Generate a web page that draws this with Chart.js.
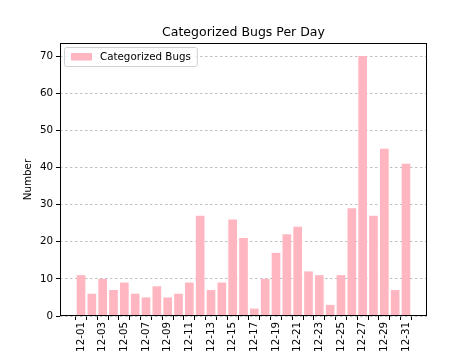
<!DOCTYPE html>
<html><head><meta charset="utf-8">
<script src="https://cdn.jsdelivr.net/npm/chart.js@4.4.0/dist/chart.umd.min.js"></script>
<style>html,body{margin:0;padding:0;background:#fff}#wrap{width:474px;height:355px}</style>
</head><body><div id="wrap"><canvas id="c" width="474" height="355"></canvas></div>
<script>
const categories = ['12-01','12-02','12-03','12-04','12-05','12-06','12-07','12-08','12-09','12-10','12-11','12-12','12-13','12-14','12-15','12-16','12-17','12-18','12-19','12-20','12-21','12-22','12-23','12-24','12-25','12-26','12-27','12-28','12-29','12-30','12-31'];
const bugCounts = [11,6,10,7,9,6,5,8,5,6,9,27,7,9,26,21,2,10,17,22,24,12,11,3,11,29,70,27,45,7,41];
const yTicks = [0,10,20,30,40,50,60,70];
const seriesName = 'Categorized Bugs';
const chartTitle = 'Categorized Bugs Per Day';
const yTitle = 'Number';

const FONT = "'DejaVu Sans', sans-serif";
const PINK = '#FFB6C1';

const decor = {
  id: 'decor',
  afterDraw(chart) {
    const {ctx, chartArea: a} = chart;
    ctx.save();
    ctx.strokeStyle = '#000';
    ctx.lineWidth = 1;
    ctx.strokeRect(a.left + 0.5, a.top + 0.5, a.right - a.left - 1, a.bottom - a.top - 1);
    // title
    ctx.fillStyle = '#000';
    ctx.font = "12.5px " + FONT;
    ctx.textAlign = 'center';
    ctx.textBaseline = 'alphabetic';
    ctx.fillText(chartTitle, (a.left + a.right) / 2, a.top - 7);
    // legend
    ctx.font = "10.3px " + FONT;
    const tw = ctx.measureText(seriesName).width;
    const lx = a.left + 4, ly = a.top + 4, lh = 19, lw = 8 + 20 + 8 + tw + 6;
    ctx.fillStyle = 'rgba(255,255,255,0.8)';
    ctx.strokeStyle = '#d0d0d0';
    ctx.beginPath();
    if (ctx.roundRect) ctx.roundRect(lx + 0.5, ly + 0.5, lw, lh, 2); else ctx.rect(lx + 0.5, ly + 0.5, lw, lh);
    ctx.fill(); ctx.stroke();
    ctx.fillStyle = PINK;
    ctx.fillRect(lx + 7, ly + 6, 21, 7.5);
    ctx.fillStyle = '#000';
    ctx.textAlign = 'left';
    ctx.textBaseline = 'middle';
    ctx.fillText(seriesName, lx + 36, ly + lh / 2 + 0.5);
    ctx.restore();
  }
};

new Chart(document.getElementById('c'), {
  type: 'bar',
  data: {
    datasets: [{
      label: seriesName,
      data: bugCounts.map((v, i) => ({x: i, y: v})),
      backgroundColor: PINK,
      borderWidth: 0,
      barPercentage: 0.8,
      categoryPercentage: 1.0
    }]
  },
  options: {
    responsive: false,
    animation: false,
    layout: {padding: {top: 43, right: 47, left: 22, bottom: 0}},
    plugins: {legend: {display: false}, title: {display: false}, tooltip: {enabled: false}},
    scales: {
      x: {
        type: 'linear',
        min: -1.94, max: 31.94,
        offset: false,
        afterBuildTicks(scale) { scale.ticks = categories.map((c, i) => ({value: i})); },
        afterFit(scale) { scale.height = 39; },
        ticks: {
          autoSkip: false, maxRotation: 90, minRotation: 90, padding: 2,
          color: '#000', font: {family: FONT, size: 10.3},
          callback(value) { const i = Math.round(value); return i % 2 === 0 ? categories[i] : ''; }
        },
        grid: {drawOnChartArea: false, drawTicks: true, tickLength: 4, tickColor: '#000', color: '#000'},
        border: {display: false}
      },
      y: {
        min: 0, max: 73.5,
        afterBuildTicks(scale) { scale.ticks = yTicks.map(v => ({value: v})); },
        afterFit(scale) { scale.width = 38; },
        ticks: {color: '#000', font: {family: FONT, size: 10.3}, padding: 3},
        grid: {color: '#b0b0b0', lineWidth: 0.8, tickLength: 4, tickColor: '#000', tickWidth: 1},
        border: {display: false, dash: [2.5, 2.5]},
        title: {display: true, text: yTitle, color: '#000', font: {family: FONT, size: 10.3}, padding: {top: 0, bottom: 0}}
      }
    }
  },
  plugins: [decor]
});
</script></body></html>
